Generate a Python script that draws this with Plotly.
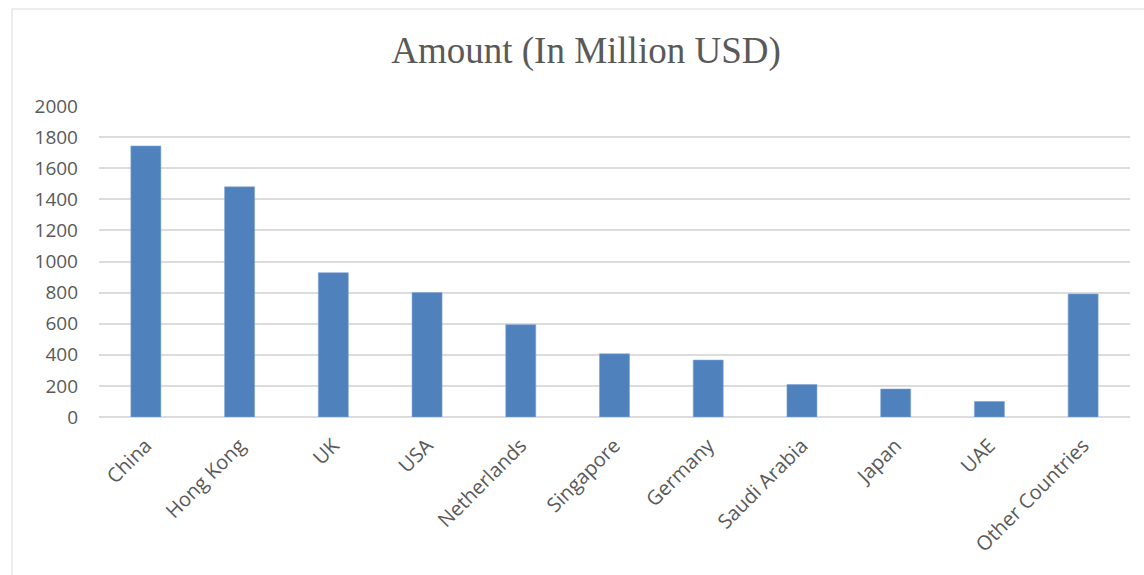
import plotly.graph_objects as go

# Investment amount by source country (million USD)
countries = ["China", "Hong Kong", "UK", "USA", "Netherlands", "Singapore",
             "Germany", "Saudi Arabia", "Japan", "UAE", "Other Countries"]
amounts = [1743, 1480, 928, 800, 594, 406, 366, 209, 180, 100, 791]
y_ticks = [0, 200, 400, 600, 800, 1000, 1200, 1400, 1600, 1800, 2000]

W, H = 1144, 575
L, R, T, B = 99, 14, 106, 158

fig = go.Figure(
    go.Bar(
        x=countries,
        y=amounts,
        marker=dict(color="#4f81bd", line=dict(color="#7fa3d4", width=0.6)),
        width=0.32,
    )
)

plot_w = W - L - R
plot_h = H - T - B

fig.update_layout(
    width=W,
    height=H,
    margin=dict(l=L, r=R, t=T, b=B, pad=0),
    paper_bgcolor="white",
    plot_bgcolor="white",
    showlegend=False,
    title=dict(
        text="Amount (In Million USD)",
        font=dict(family="Liberation Serif", size=37, color="#595959"),
        x=586 / W,
        xanchor="center",
        xref="container",
        y=1 - 50 / H,
        yanchor="middle",
        yref="container",
    ),
    xaxis=dict(
        tickangle=-45,
        tickfont=dict(family="Open Sans", size=20, color="#595959"),
        showgrid=False,
        showline=False,
        ticks="",
        ticklabelstandoff=12,
    ),
    yaxis=dict(
        range=[0, 2000],
        tickvals=y_ticks,
        tickfont=dict(family="Open Sans", size=19, color="#595959"),
        showgrid=True,
        gridcolor="#dcdcdc",
        gridwidth=1.5,
        zeroline=True,
        zerolinecolor="#dcdcdc",
        zerolinewidth=1.5,
        showline=False,
        ticks="",
        ticklabelstandoff=20,
    ),
    shapes=[
        dict(
            type="rect",
            xref="paper",
            yref="paper",
            x0=(12 - L) / plot_w,
            x1=(W + 5 - L) / plot_w,
            y0=(H - B - (H + 5)) / plot_h,
            y1=(H - B - 9) / plot_h,
            line=dict(color="#d9d9d9", width=1),
            fillcolor="rgba(0,0,0,0)",
            layer="below",
        )
    ],
)

fig.write_html("out.html")
